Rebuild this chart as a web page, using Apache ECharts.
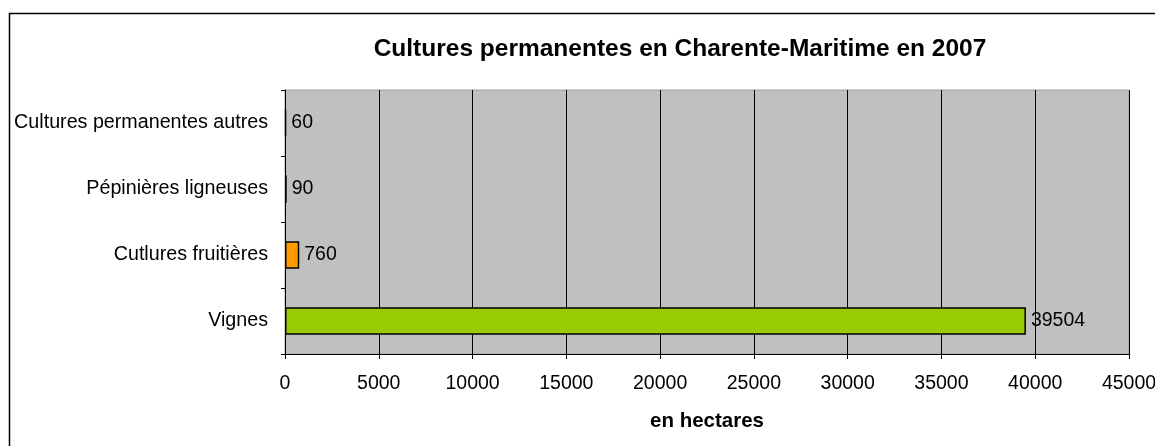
<!DOCTYPE html>
<html>
<head>
<meta charset="utf-8">
<script src="https://cdn.jsdelivr.net/npm/echarts@6/dist/echarts.min.js"></script>
<style>
  html, body { margin: 0; padding: 0; background: #ffffff; }
  #chart { width: 1155px; height: 446px; }
</style>
</head>
<body>
<div id="chart"></div>
<script>
// Permanent crops in Charente-Maritime, 2007 (hectares), listed bottom to top
const categories = ['Vignes', 'Cutlures fruitières', 'Pépinières ligneuses', 'Cultures permanentes autres'];
const values = [39504, 760, 90, 60];
const barColors = ['#99CC00', '#FF9900', '#9999FF', '#993366'];
const xTicks = [0, 5000, 10000, 15000, 20000, 25000, 30000, 35000, 40000, 45000];

const font = '"Liberation Sans", Arial, sans-serif';
const chart = echarts.init(document.getElementById('chart'));

chart.setOption({
  animation: false,
  backgroundColor: '#ffffff',
  title: {
    text: 'Cultures permanentes en Charente-Maritime en 2007',
    left: 675,
    top: 32,
    textAlign: 'center',
    textStyle: { fontFamily: font, fontSize: 24.5, fontWeight: 'bold', color: '#000' }
  },
  graphic: [{
    type: 'rect',
    shape: { x: 9.5, y: 13.5, width: 1300, height: 600 },
    style: { fill: 'none', stroke: '#000', lineWidth: 1.5 },
    silent: true
  }],
  grid: {
    left: 285, right: 26, top: 90, bottom: 92,
    outerBoundsMode: 'none',
    containLabel: false,
    show: true, backgroundColor: '#C0C0C0', borderColor: '#A0A0A0', borderWidth: 1
  },
  xAxis: {
    type: 'value',
    min: xTicks[0],
    max: xTicks[xTicks.length - 1],
    interval: 5000,
    name: 'en hectares',
    nameLocation: 'middle',
    nameGap: 57,
    nameTextStyle: { fontFamily: font, fontSize: 20.5, fontWeight: 'bold', color: '#000' },
    axisLine: { show: true, lineStyle: { color: '#000', width: 1 } },
    axisTick: { show: true, length: 5, lineStyle: { color: '#000' } },
    axisLabel: {
      margin: 20, fontFamily: font, fontSize: 19.5, color: '#000',
      formatter: v => String(v)
    },
    splitLine: { show: true, lineStyle: { color: '#000', width: 1 } }
  },
  yAxis: {
    type: 'category',
    data: categories,
    axisLine: { show: true, lineStyle: { color: '#000', width: 1 } },
    axisTick: { show: true, length: 4, lineStyle: { color: '#000' } },
    axisLabel: { margin: 17, fontFamily: font, fontSize: 19.7, color: '#000' },
    splitLine: { show: false }
  },
  series: [{
    type: 'bar',
    data: values.map((v, i) => ({ value: v, itemStyle: { color: barColors[i] } })),
    barCategoryGap: '58%',
    itemStyle: { borderColor: '#000', borderWidth: 1.5 },
    label: {
      show: true,
      position: 'right',
      distance: 5,
      fontFamily: font,
      fontSize: 19.5,
      color: '#000'
    }
  }]
});
</script>
</body>
</html>
